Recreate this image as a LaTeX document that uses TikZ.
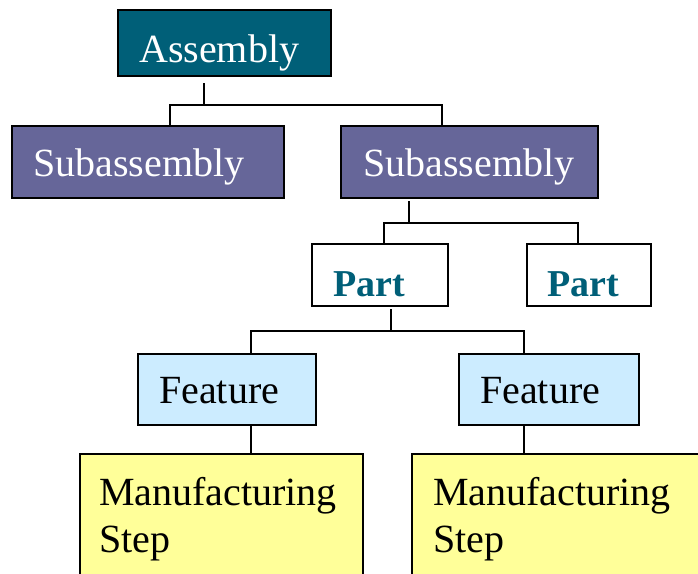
\documentclass[tikz,border=0pt]{standalone}
\usepackage{fontspec}
\setmainfont{Liberation Serif}
\definecolor{asmteal}{RGB}{0,95,120}
\definecolor{subpurple}{RGB}{102,102,153}
\definecolor{featblue}{RGB}{204,236,255}
\definecolor{stepyellow}{RGB}{255,255,153}
\tikzset{
  box/.style={draw=black, line width=1.6pt, rectangle, anchor=north west,
              outer sep=0pt, inner sep=0pt},
  lbl/.style={anchor=base west, inner sep=0pt, font=\fontsize{40}{48}\selectfont},
  partlbl/.style={lbl, text=asmteal, font=\fontsize{38}{46}\selectfont\bfseries},
  link/.style={draw=black, line width=1.6pt},
}
\begin{document}
\begin{tikzpicture}[x=1pt, y=-1pt]
\useasboundingbox (0,0) rectangle (698,573);
\clip (0,0) rectangle (698,573);

% boxes of the tree
\node[box, fill=asmteal,    minimum width=213pt, minimum height=66pt]  (asm)   at (118,10)  {};
\node[box, fill=subpurple,  minimum width=272pt, minimum height=72pt]  (subA)  at (12,126)  {};
\node[box, fill=subpurple,  minimum width=257pt, minimum height=72pt]  (subB)  at (341,126) {};
\node[box, fill=white,      minimum width=136pt, minimum height=62pt]  (partA) at (312,244) {};
\node[box, fill=white,      minimum width=124pt, minimum height=62pt]  (partB) at (527,244) {};
\node[box, fill=featblue,   minimum width=178pt, minimum height=71pt]  (featA) at (138,354) {};
\node[box, fill=featblue,   minimum width=180pt, minimum height=71pt]  (featB) at (459,354) {};
\node[box, fill=stepyellow, minimum width=283pt, minimum height=136pt] (stepA) at (80,454)  {};
\node[box, fill=stepyellow, minimum width=308pt, minimum height=136pt] (stepB) at (412,454) {};

% labels
\node[lbl, text=white] (tAsm)  at (139,62)  {Assembly};
\node[lbl, text=white] (tSubA) at (33,176)  {Subassembly};
\node[lbl, text=white] (tSubB) at (363,176) {Subassembly};
\node[partlbl] (tPartA) at (333,296) {Part};
\node[partlbl] (tPartB) at (547,296) {Part};
\node[lbl] (tFeatA)  at (159,403) {Feature};
\node[lbl] (tFeatB)  at (480,403) {Feature};
\node[lbl] (tStepA)  at (99,505)  {Manufacturing};
\node[lbl] (tStepA2) at (99,552)  {Step};
\node[lbl] (tStepB)  at (433,505) {Manufacturing};
\node[lbl] (tStepB2) at (433,552) {Step};

% bus points of the connectors
\coordinate (busAsm)  at (204,105);
\coordinate (busSub)  at (409,223);
\coordinate (busPart) at (391,331);

% tree connectors
\draw[link] ([yshift=-7pt]asm.south -| busAsm) -- (busAsm);
\draw[link] (subA.north -| 170,0) |- (busAsm) -| (subB.north -| 442,0);
\draw[link] ([yshift=-3pt]subB.south -| busSub) -- (busSub);
\draw[link] (partA.north -| 384,0) |- (busSub) -| (partB.north -| 578,0);
\draw[link] ([yshift=-3pt]partA.south -| busPart) -- (busPart);
\draw[link] (featA.north -| 251,0) |- (busPart) -| (featB.north -| 524,0);
\draw[link] (featA.south -| 251,0) -- (stepA.north -| 251,0);
\draw[link] (featB.south -| 524,0) -- (stepB.north -| 524,0);
\end{tikzpicture}
\end{document}
